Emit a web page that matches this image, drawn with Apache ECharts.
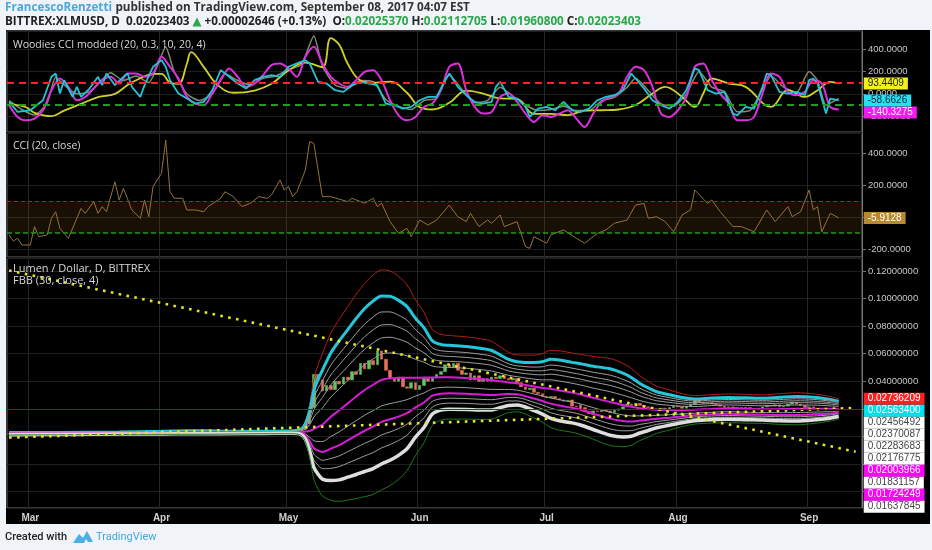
<!DOCTYPE html>
<html>
<head>
<meta charset="utf-8">
<script src="https://cdn.jsdelivr.net/npm/echarts@6/dist/echarts.min.js"></script>
<style>
  html, body { margin: 0; padding: 0; background: #f0f3f7; }
  #chart { width: 932px; height: 550px; }
</style>
</head>
<body>
<div id="chart"></div>
<script>
// one category per day, 2017-02-24 .. 2017-09-13 (last candle is Sep 08)
const dates = [];
const startUtc = Date.UTC(2017, 1, 24);
for (let i = 0; i < 202; i++) {
  dates.push(new Date(startUtc + i * 86400000).toISOString().slice(0, 10));
}
const monthNames = ['Jan', 'Feb', 'Mar', 'Apr', 'May', 'Jun', 'Jul', 'Aug', 'Sep', 'Oct', 'Nov', 'Dec'];

// daily candles [open, close, low, high]
const candles = [
  // Feb 24-28
  [.0018,.0019,.0017,.0020],[.0019,.0019,.0018,.0020],[.0019,.0020,.0018,.0021],[.0020,.0020,.0019,.0021],[.0020,.0021,.0019,.0022],
  // Mar
  [.0021,.0021,.0020,.0022],[.0021,.0022,.0020,.0023],[.0022,.0021,.0020,.0023],[.0021,.0022,.0020,.0023],[.0022,.0022,.0021,.0023],
  [.0022,.0023,.0021,.0024],[.0023,.0023,.0022,.0024],[.0023,.0022,.0021,.0024],[.0022,.0023,.0021,.0024],[.0023,.0024,.0022,.0025],
  [.0024,.0023,.0022,.0025],[.0023,.0024,.0022,.0025],[.0024,.0025,.0023,.0026],[.0025,.0025,.0024,.0026],[.0025,.0026,.0024,.0027],
  [.0026,.0025,.0024,.0027],[.0025,.0026,.0024,.0027],[.0026,.0027,.0025,.0028],[.0027,.0026,.0025,.0028],[.0026,.0027,.0025,.0028],
  [.0027,.0028,.0026,.0030],[.0028,.0027,.0026,.0029],[.0027,.0028,.0026,.0029],[.0028,.0027,.0026,.0029],[.0027,.0028,.0026,.0029],
  [.0028,.0029,.0027,.0030],
  // Apr
  [.0029,.0028,.0027,.0030],[.0028,.0029,.0027,.0030],[.0029,.0030,.0028,.0031],[.0030,.0031,.0029,.0033],[.0031,.0033,.0030,.0035],
  [.0033,.0036,.0032,.0040],[.0036,.0042,.0035,.0052],[.0042,.0035,.0033,.0044],[.0035,.0033,.0031,.0036],[.0033,.0032,.0030,.0034],
  [.0032,.0031,.0030,.0033],[.0031,.0031,.0029,.0032],[.0031,.0030,.0029,.0032],[.0030,.0029,.0028,.0031],[.0029,.0028,.0027,.0030],
  [.0028,.0028,.0027,.0029],[.0028,.0027,.0026,.0029],[.0027,.0028,.0026,.0029],[.0028,.0029,.0027,.0030],[.0029,.0030,.0028,.0031],
  [.0030,.0031,.0029,.0032],[.0031,.0030,.0029,.0032],[.0030,.0030,.0029,.0031],[.0030,.0029,.0028,.0031],[.0029,.0030,.0028,.0031],
  [.0030,.0030,.0029,.0031],[.0030,.0031,.0029,.0032],[.0031,.0031,.0030,.0032],[.0031,.0032,.0030,.0033],[.0032,.0032,.0031,.0033],
  // May
  [.0032,.0033,.0031,.0034],[.0033,.0033,.0032,.0034],[.0033,.0034,.0032,.0035],[.0034,.0034,.0033,.0036],[.0034,.0035,.0033,.0037],
  [.0035,.0036,.0034,.0038],[.0036,.0034,.0033,.0037],[.0034,.0037,.0033,.0041],[.0037,.0052,.0036,.0058],[.0052,.0092,.0050,.0105],
  [.0092,.0210,.0088,.0240],[.0210,.0450,.0195,.0736],[.0450,.0410,.0330,.0560],[.0410,.0330,.0280,.0470],[.0330,.0370,.0195,.0440],
  [.0370,.0340,.0310,.0420],[.0340,.0400,.0330,.0450],[.0400,.0380,.0350,.0470],[.0380,.0430,.0370,.0480],[.0430,.0410,.0380,.0500],
  [.0410,.0470,.0400,.0520],[.0470,.0450,.0430,.0560],[.0450,.0530,.0440,.0570],[.0530,.0490,.0460,.0600],[.0490,.0550,.0470,.0640],
  [.0550,.0520,.0490,.0690],[.0520,.0620,.0500,.0700],[.0620,.0560,.0520,.0730],[.0560,.0480,.0440,.0620],[.0480,.0420,.0380,.0530],
  [.0420,.0400,.0340,.0470],
  // Jun
  [.0400,.0430,.0370,.0480],[.0430,.0360,.0240,.0450],[.0360,.0350,.0290,.0410],[.0350,.0390,.0320,.0420],[.0390,.0340,.0300,.0410],
  [.0340,.0370,.0300,.0400],[.0370,.0420,.0350,.0450],[.0420,.0400,.0370,.0440],[.0400,.0430,.0380,.0460],[.0430,.0450,.0410,.0480],
  [.0450,.0470,.0430,.0500],[.0470,.0520,.0450,.0550],[.0520,.0500,.0470,.0600],[.0500,.0530,.0480,.0560],[.0530,.0480,.0460,.0550],
  [.0480,.0450,.0420,.0500],[.0450,.0460,.0420,.0490],[.0460,.0410,.0390,.0470],[.0410,.0440,.0380,.0460],[.0440,.0400,.0300,.0450],
  [.0400,.0420,.0380,.0440],[.0420,.0400,.0370,.0430],[.0400,.0430,.0390,.0450],[.0430,.0420,.0400,.0460],[.0420,.0440,.0410,.0500],
  [.0440,.0420,.0400,.0460],[.0420,.0410,.0390,.0440],[.0410,.0420,.0400,.0440],[.0420,.0390,.0370,.0430],[.0390,.0360,.0340,.0400],
  // Jul
  [.0360,.0340,.0300,.0380],[.0340,.0350,.0310,.0370],[.0350,.0320,.0200,.0360],[.0320,.0310,.0290,.0340],[.0310,.0290,.0270,.0330],
  [.0290,.0280,.0260,.0310],[.0280,.0290,.0260,.0300],[.0290,.0275,.0260,.0300],[.0275,.0265,.0250,.0285],[.0265,.0255,.0240,.0275],
  [.0255,.0260,.0240,.0270],[.0265,.0220,.0210,.0270],[.0220,.0215,.0200,.0235],[.0230,.0200,.0170,.0235],[.0210,.0180,.0170,.0215],
  [.0180,.0165,.0150,.0190],[.0160,.0185,.0155,.0195],[.0185,.0180,.0170,.0195],[.0180,.0190,.0175,.0200],[.0190,.0185,.0175,.0200],
  [.0185,.0175,.0165,.0190],[.0175,.0190,.0170,.0200],[.0190,.0200,.0180,.0210],[.0200,.0215,.0195,.0225],[.0215,.0235,.0205,.0245],
  [.0235,.0225,.0210,.0245],[.0225,.0240,.0215,.0255],[.0240,.0225,.0215,.0245],[.0225,.0215,.0205,.0235],[.0215,.0210,.0200,.0225],
  [.0210,.0195,.0185,.0215],
  // Aug
  [.0195,.0200,.0185,.0210],[.0200,.0205,.0190,.0215],[.0205,.0195,.0185,.0210],[.0195,.0210,.0190,.0220],[.0210,.0220,.0200,.0230],
  [.0220,.0215,.0205,.0230],[.0215,.0205,.0195,.0225],[.0205,.0220,.0200,.0230],[.0220,.0235,.0215,.0245],[.0235,.0275,.0230,.0290],
  [.0270,.0250,.0240,.0280],[.0250,.0240,.0230,.0260],[.0240,.0245,.0230,.0255],[.0245,.0235,.0225,.0255],[.0235,.0230,.0220,.0245],
  [.0230,.0220,.0210,.0240],[.0220,.0210,.0200,.0230],[.0210,.0215,.0200,.0225],[.0215,.0205,.0150,.0220],[.0205,.0210,.0195,.0220],
  [.0210,.0200,.0190,.0215],[.0200,.0210,.0190,.0220],[.0210,.0200,.0185,.0215],[.0200,.0195,.0185,.0210],[.0195,.0205,.0190,.0215],
  [.0205,.0215,.0200,.0225],[.0215,.0225,.0210,.0235],[.0225,.0220,.0210,.0235],[.0220,.0230,.0215,.0240],[.0230,.0215,.0205,.0235],
  [.0215,.0220,.0205,.0230],
  // Sep 1-8
  [.0220,.0235,.0215,.0250],[.0235,.0250,.0230,.0265],[.0250,.0235,.0225,.0255],[.0235,.0225,.0215,.0240],[.0225,.0210,.0200,.0230],
  [.0210,.0215,.0198,.0220],[.0215,.02020757,.0195,.0220],[.02025370,.02023403,.01960800,.02112705]
];

// FBB (30, close, 4): basis and outer upper band
const fbbDays  = [0, 12, 26, 36, 42, 50, 60, 67, 69, 70, 71, 72, 73, 74, 76, 78, 80, 82, 84, 86, 88, 90, 92, 94, 96, 98, 100, 102, 104, 108, 112, 114, 116, 118, 120, 124, 126, 128, 130, 133, 135, 138, 142, 145, 147, 149, 151, 153, 156, 159, 162, 166, 170, 174, 178, 182, 186, 190, 194, 196];
const fbbBasis = [.0021, .0022, .0025, .0028, .0031, .0030, .0030, .0032, .0034, .0036, .0040, .0055, .0070, .0085, .0143, .0190, .0240, .0290, .0337, .0375, .0410, .0422, .0425, .0426, .0426, .0427, .0428, .0429, .0429, .0424, .0414, .0408, .0400, .0392, .0385, .0362, .0352, .0345, .0334, .0318, .0305, .0280, .0250, .0228, .0215, .0205, .0198, .0194, .0192, .0191, .0193, .0200, .0204, .0201, .0198, .0199, .0201, .0202, .0201, .02003966];
const fbbUpper = [.0031, .0032, .0035, .0040, .0046, .0043, .0040, .0044, .0060, .0110, .0230, .0420, .0520, .0600, .0748, .0850, .0940, .1030, .1110, .1170, .1207, .1200, .1160, .1100, .0990, .0900, .0775, .0740, .0732, .0722, .0705, .0690, .0651, .0610, .0591, .0590, .0600, .0625, .0622, .0605, .0595, .0580, .0565, .0530, .0494, .0440, .0400, .0365, .0337, .0310, .0296, .0303, .0308, .0305, .0301, .0310, .0317, .0310, .0290, .02736209];
const fbbRatios = [1, 0.764, 0.618, 0.5, 0.382, 0.236, 0, -0.236, -0.382, -0.5, -0.618, -0.764, -1];

// Woodies CCI modded: [day index, value]
const woodCyan = [[0,-72],[2,-162],[5,-147],[8,-57],[10,153],[11,183],[12,3],[13,123],[15,-27],[16,63],[17,-27],[19,48],[21,153],[22,78],[23,183],[25,78],[27,153],[28,183],[29,63],[31,-27],[32,78],[34,243],[36,303],[37,243],[38,123],[40,3],[42,-42],[44,-87],[46,-72],[48,33],[50,213],[52,153],[54,93],[56,48],[58,123],[60,153],[62,168],[64,153],[66,243],[68,273],[70,303],[71,273],[73,108],[75,93],[77,33],[79,18],[81,78],[83,108],[85,93],[87,78],[89,-87],[91,-102],[93,-132],[95,-117],[97,-57],[99,-27],[101,-27],[103,123],[104,183],[106,63],[108,-12],[110,-72],[112,-87],[114,-72],[115,63],[116,108],[118,-27],[120,-42],[122,-117],[123,-207],[125,-132],[127,-117],[129,-147],[131,-72],[133,-147],[135,-162],[137,-132],[139,-57],[141,-27],[143,-12],[145,33],[147,183],[148,138],[150,48],[152,-57],[154,-102],[156,-132],[158,-72],[160,33],[162,228],[163,213],[165,33],[167,3],[169,18],[171,-177],[172,-192],[174,-117],[176,-132],[178,63],[179,183],[180,168],[182,18],[184,3],[186,18],[188,-12],[189,123],[190,138],[191,93],[193,-177],[194,-42],[196,-58.6626]];
const woodMagenta = [[0,-102],[2,-207],[4,-237],[6,-222],[8,-147],[10,33],[12,138],[14,63],[16,-57],[18,-27],[20,48],[22,123],[24,153],[26,93],[28,183],[30,183],[32,153],[34,183],[36,333],[38,243],[40,138],[42,-27],[44,-87],[46,-102],[48,3],[50,123],[52,228],[54,153],[56,63],[58,93],[60,168],[62,258],[64,273],[66,228],[68,153],[70,333],[72,423],[74,273],[76,153],[78,93],[80,63],[82,123],[84,198],[86,213],[88,123],[90,-57],[92,-192],[94,-237],[96,-207],[98,-117],[100,-87],[102,33],[104,243],[106,273],[108,33],[110,-117],[112,-177],[114,-162],[116,-27],[118,3],[120,-72],[122,-177],[124,-252],[126,-192],[128,-207],[130,-177],[132,-147],[134,-222],[136,-297],[138,-177],[140,-72],[142,-27],[144,3],[146,153],[148,243],[150,213],[152,63],[154,-177],[156,-207],[158,-147],[160,-27],[162,243],[164,273],[166,123],[168,3],[170,-87],[172,-237],[174,-237],[176,-207],[178,3],[180,183],[182,153],[184,18],[186,-12],[188,18],[190,123],[192,93],[194,-117],[196,-140.3275]];
const woodYellow = [[0,-90],[4,-120],[6,-170],[10,-200],[13,-150],[17,-90],[21,-30],[25,0],[28,80],[31,140],[34,180],[36,180],[38,100],[40,90],[42,270],[43,375],[46,240],[49,90],[53,10],[58,30],[62,90],[66,210],[70,280],[74,240],[76,500],[78,440],[80,270],[83,120],[86,100],[90,110],[94,10],[97,-120],[100,-140],[104,-80],[108,30],[112,3],[116,-40],[120,-45],[124,-180],[128,-180],[132,-190],[136,-150],[140,-147],[144,-140],[148,-100],[152,3],[155,63],[159,-27],[162,-117],[164,3],[166,138],[170,93],[174,63],[180,-117],[184,33],[188,-27],[191,33],[194,108],[196,93.4409]];
const woodGray = [[0,-60],[3,-140],[6,-190],[9,-80],[11,150],[13,80],[16,0],[19,20],[22,130],[24,190],[27,120],[30,160],[33,100],[35,250],[37,420],[39,200],[42,0],[45,-60],[48,0],[51,180],[54,120],[57,80],[60,140],[63,160],[66,220],[69,260],[72,520],[74,250],[77,80],[80,50],[83,120],[86,110],[89,-50],[92,-110],[95,-140],[98,-60],[101,-40],[104,170],[107,40],[110,-80],[113,-60],[116,60],[119,-20],[122,-100],[125,-150],[128,-140],[131,-110],[134,-150],[137,-150],[140,-60],[143,-30],[146,60],[148,140],[151,30],[154,-90],[157,-110],[160,0],[163,200],[166,60],[169,20],[172,-160],[175,-150],[178,40],[180,160],[183,60],[186,10],[189,200],[191,120],[193,-100],[196,-40]];

// CCI (20, close): [day index, value]
const cciLine = [[0,-112],[1,-150],[2,-133],[3,-175],[5,-175],[6,-60],[7,-123],[9,-112],[10,-8],[11,33],[12,-71],[14,-133],[17,54],[18,23],[20,96],[21,23],[22,65],[23,33],[25,221],[26,106],[27,179],[29,44],[31,-8],[32,106],[33,2],[34,190],[36,273],[37,481],[38,158],[39,117],[41,117],[42,44],[44,44],[46,33],[47,65],[50,117],[51,158],[53,127],[55,65],[57,86],[59,127],[61,117],[62,138],[64,231],[65,169],[66,190],[67,127],[68,158],[70,294],[71,471],[72,460],[74,127],[76,127],[80,96],[81,117],[84,86],[86,117],[87,65],[88,86],[90,-29],[92,-102],[94,-71],[95,-123],[97,-19],[99,-50],[101,-19],[104,75],[106,2],[108,-29],[109,23],[111,-60],[113,-19],[114,-39],[116,13],[117,-60],[120,-29],[122,-185],[123,-196],[124,-123],[127,-164],[128,-112],[131,-81],[134,-133],[136,-164],[139,-102],[141,-81],[143,-39],[146,-19],[148,75],[150,85],[151,-8],[153,2],[155,-29],[157,-92],[159,13],[161,44],[162,169],[165,85],[166,106],[168,33],[171,-60],[173,-60],[176,-92],[179,44],[181,-29],[184,65],[185,2],[187,33],[189,169],[190,44],[191,65],[192,-92],[194,23],[196,-5.9128]];

// dotted trend lines on the price pane: [day index, price]
const trendUpper = [[0, 0.1203], [200, -0.0110]];
const trendLower = [[0, -0.0008], [200, 0.0207]];

const chart = echarts.init(document.getElementById('chart'));

const isMonthStart = (idx, val) => val.slice(8) === '01';
const gridLine = { show: true, lineStyle: { color: '#1f1f1f', width: 1 } };
const labelFont = 'Liberation Sans';

function tag(bg, fg, digits) {
  return {
    show: true, distance: 25, align: 'left',
    formatter: p => p.value[1].toFixed(digits),
    backgroundColor: bg, color: fg,
    fontSize: 10, fontFamily: labelFont,
    padding: [1, 4, 1, 4], lineHeight: 10
  };
}

function makeX(gridIndex, showLabels) {
  return {
    type: 'category', gridIndex: gridIndex, data: dates, boundaryGap: true,
    axisLine: { show: false }, axisTick: { show: false },
    axisLabel: {
      show: showLabels, interval: isMonthStart, color: '#cfcfcf', fontSize: 10,
      fontFamily: labelFont, fontWeight: 'bold', margin: 5,
      formatter: v => monthNames[+v.slice(5, 7) - 1]
    },
    splitLine: { show: true, interval: isMonthStart, lineStyle: { color: '#262626' } }
  };
}

function makeY(gridIndex, min, max, step, digits) {
  return {
    type: 'value', gridIndex: gridIndex, position: 'right', min: min, max: max,
    minInterval: step, maxInterval: step, scale: true,
    axisLine: { show: true, lineStyle: { color: '#777' } },
    axisTick: { show: true, length: 4, lineStyle: { color: '#777' } },
    axisLabel: {
      color: '#c8c8c8', fontSize: 9.5, fontFamily: labelFont, margin: 6,
      showMinLabel: false, showMaxLabel: false,
      formatter: v => v.toFixed(digits)
    },
    splitLine: gridLine
  };
}

const bandStyle = {
  '1':     { color: '#b71c1c', width: 1,   tag: ['#ff1f1f', '#fff'] },
  '0.764': { color: '#26c6da', width: 3,   tag: ['#00e0ee', '#fff'] },
  '0':     { color: '#d81bd8', width: 2,   tag: ['#ff00ff', '#fff'] },
  '-0.382':{ color: '#d81bd8', width: 2,   tag: ['#ff00ff', '#fff'] },
  '-0.764':{ color: '#dedede', width: 3.5 },
  '-1':    { color: '#1b7a1b', width: 1 }
};
const whiteTagged = ['0.618', '0.5', '0.382', '0.236', '-0.236', '-0.5'];

const bandSeries = fbbRatios.map(r => {
  const key = String(r);
  const st = bandStyle[key] || { color: '#9e9e9e', width: 1 };
  const s = {
    type: 'line', xAxisIndex: 2, yAxisIndex: 2, showSymbol: false, smooth: 0.3,
    silent: true, lineStyle: { color: st.color, width: st.width },
    data: fbbDays.map((d, i) => [d, fbbBasis[i] + r * (fbbUpper[i] - fbbBasis[i])])
  };
  if (st.tag) {
    s.endLabel = tag(st.tag[0], st.tag[1], 8);
  } else if (whiteTagged.indexOf(key) >= 0) {
    s.endLabel = tag('#ffffff', '#444', 8);
  }
  if (s.endLabel) s.labelLayout = { moveOverlap: 'shiftY' };
  return s;
});

const lastClose = candles[candles.length - 1][1];

function woodLine(data, color, width, smooth, labelTag) {
  const s = {
    type: 'line', xAxisIndex: 0, yAxisIndex: 0, showSymbol: false, smooth: smooth,
    silent: true, lineStyle: { color: color, width: width }, data: data
  };
  if (labelTag) {
    s.endLabel = tag(labelTag[0], labelTag[1], 4);
    s.labelLayout = { moveOverlap: 'shiftY' };
  }
  return s;
}

const cyanSeries = woodLine(woodCyan, '#22c3d6', 1.8, 0, ['#1ee3f0', '#123']);
cyanSeries.markLine = {
  silent: true, symbol: ['none', 'none'], label: { show: false },
  data: [
    { yAxis: 100, lineStyle: { color: '#ff2424', type: [7, 5], width: 2 } },
    { yAxis: -100, lineStyle: { color: '#1f9e1f', type: [7, 5], width: 2 } }
  ]
};

const headFont = { fontSize: 11.7, fontWeight: 'bold', fontFamily: 'Open Sans, DejaVu Sans' };

const option = {
  animation: false,
  backgroundColor: '#f0f3f7',
  textStyle: { fontFamily: labelFont },
  grid: [
    { left: 7, right: 70, top: 31, height: 101, show: true, borderColor: '#6a6a6a', backgroundColor: 'transparent' },
    { left: 7, right: 70, top: 133, height: 124, show: true, borderColor: '#6a6a6a', backgroundColor: 'transparent' },
    { left: 7, right: 70, top: 258, height: 250, show: true, borderColor: '#6a6a6a', backgroundColor: 'transparent' }
  ],
  xAxis: [makeX(0, false), makeX(1, false), makeX(2, true)],
  yAxis: [
    makeY(0, -342, 564, 200, 4),
    makeY(1, -250, 525, 200, 4),
    makeY(2, -0.05181, 0.12935, 0.02, 8)
  ],
  graphic: [
    { type: 'rect', z: -10, silent: true, shape: { x: 6, y: 30, width: 924, height: 494 }, style: { fill: '#000' } },
    {
      type: 'text', x: 5, y: 8, silent: true,
      style: {
        text: '{a|FrancescoRenzetti} {b|published on TradingView.com, September 08, 2017 04:07 EST}',
        verticalAlign: 'middle',
        rich: {
          a: Object.assign({ fill: '#4aa8dc' }, headFont),
          b: Object.assign({ fill: '#333' }, headFont)
        }
      }
    },
    {
      type: 'text', x: 5, y: 22, silent: true,
      style: {
        text: '{b|BITTREX:XLMUSD, D  0.02023403 }{g|▲}{b| +0.00002646 (+0.13%)  O:}{g|0.02025370}{b| H:}{g|0.02112705}{b| L:}{g|0.01960800}{b| C:}{g|0.02023403}',
        verticalAlign: 'middle',
        rich: {
          b: Object.assign({ fill: '#222' }, headFont),
          g: Object.assign({ fill: '#2aa84a' }, headFont)
        }
      }
    },
    { type: 'text', x: 13, y: 45, z: 10, silent: true, style: { text: 'Woodies CCI modded (20, 0.3, 10, 20, 4)', fill: '#d8d8d8', fontSize: 10.5, fontFamily: 'Open Sans', verticalAlign: 'middle' } },
    { type: 'text', x: 13, y: 146, z: 10, silent: true, style: { text: 'CCI (20, close)', fill: '#d8d8d8', fontSize: 10.5, fontFamily: 'Open Sans', verticalAlign: 'middle' } },
    { type: 'text', x: 13, y: 269, z: 10, silent: true, style: { text: 'Lumen / Dollar, D, BITTREX', fill: '#d8d8d8', fontSize: 11, fontFamily: 'Open Sans', verticalAlign: 'middle' } },
    { type: 'text', x: 13, y: 281, z: 10, silent: true, style: { text: 'FBB (30, close, 4)', fill: '#d8d8d8', fontSize: 11, fontFamily: 'Open Sans', verticalAlign: 'middle' } },
    { type: 'text', x: 5, y: 537, silent: true, style: { text: 'Created with', fill: '#222', fontSize: 11, fontFamily: 'Roboto', fontWeight: 500, verticalAlign: 'middle' } },
    { type: 'polygon', silent: true, shape: { points: [[73, 543], [79, 534], [83, 538], [87, 531], [93, 542], [88, 542], [86, 539], [84, 543]] }, style: { fill: '#48b0e4' } },
    { type: 'text', x: 96, y: 537, silent: true, style: { text: 'TradingView', fill: '#3fa9e0', fontSize: 11, fontFamily: 'Roboto', verticalAlign: 'middle' } }
  ],
  series: [
    woodLine(woodGray, '#7f8c70', 1.5, 0.2, null),
    woodLine(woodYellow, '#cfcf2a', 1.8, 0.4, ['#f2f21a', '#222']),
    woodLine(woodMagenta, '#dd2fdd', 2, 0.3, ['#ff14ff', '#fff']),
    cyanSeries,
    {
      type: 'line', xAxisIndex: 1, yAxisIndex: 1, showSymbol: false, silent: true,
      lineStyle: { color: '#93733a', width: 1 }, data: cciLine,
      endLabel: tag('#b8892e', '#fff', 4), labelLayout: { moveOverlap: 'shiftY' },
      markArea: { silent: true, itemStyle: { color: 'rgba(110,72,18,0.22)' }, data: [[{ yAxis: -100 }, { yAxis: 100 }]] },
      markLine: {
        silent: true, symbol: ['none', 'none'], label: { show: false },
        data: [
          { yAxis: 100, lineStyle: { color: '#a02828', type: [4, 3], width: 1 } },
          { yAxis: -100, lineStyle: { color: '#1f9a1f', type: [5, 3], width: 1.5 } }
        ]
      }
    }
  ].concat(bandSeries).concat([
    {
      // wicks
      type: 'candlestick', xAxisIndex: 2, yAxisIndex: 2, silent: true, barWidth: 1,
      itemStyle: { color: '#bdbdbd', color0: '#bdbdbd', borderColor: '#bdbdbd', borderColor0: '#bdbdbd', borderWidth: 0 },
      data: candles
    },
    {
      // bodies
      type: 'candlestick', xAxisIndex: 2, yAxisIndex: 2, silent: true, barWidth: '72%',
      itemStyle: { color: '#62c462', color0: '#e8735a', borderColor: '#62c462', borderColor0: '#e8735a', borderWidth: 0.5 },
      data: candles.map(r => [r[0], r[1], Math.min(r[0], r[1]), Math.max(r[0], r[1])]),
      markLine: {
        silent: true, symbol: ['none', 'none'], label: { show: false },
        lineStyle: { color: '#7d1c1c', width: 1, type: 'solid' },
        data: [{ yAxis: lastClose }]
      }
    },
    {
      type: 'line', xAxisIndex: 2, yAxisIndex: 2, showSymbol: false, silent: true,
      lineStyle: { color: '#e4e42a', width: 2.6, type: [2.6, 5.4] }, data: trendUpper
    },
    {
      type: 'line', xAxisIndex: 2, yAxisIndex: 2, showSymbol: false, silent: true,
      lineStyle: { color: '#e4e42a', width: 2.6, type: [2.6, 5.4] }, data: trendLower
    }
  ])
};

chart.setOption(option);
</script>
</body>
</html>
